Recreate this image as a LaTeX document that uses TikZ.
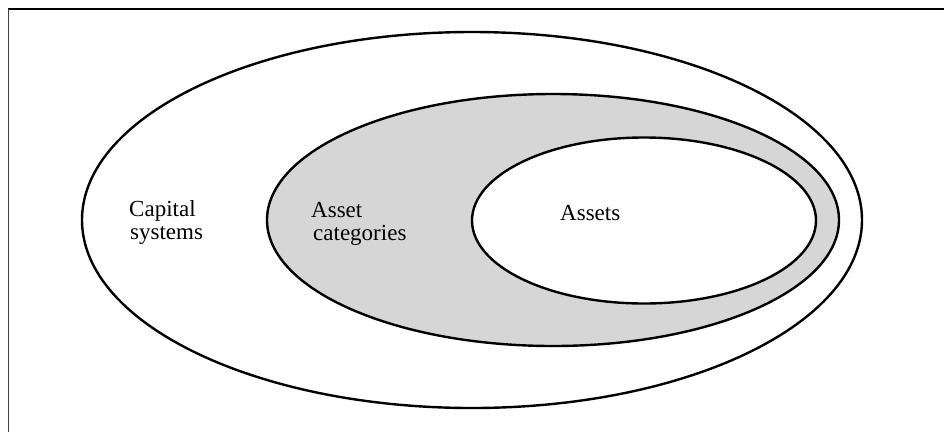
\documentclass[tikz,border=0pt]{standalone}
\usepackage{fontspec}
\setmainfont{Liberation Serif}
\definecolor{setgray}{RGB}{214,214,214}
\tikzset{
  setline/.style={line width=2.4pt, draw=black},
  lbl/.style={anchor=base west, inner sep=0pt, font=\fontsize{23}{24}\selectfont}
}
\begin{document}
\begin{tikzpicture}[x=1pt,y=-1pt]
\useasboundingbox (0,0) rectangle (944,432);
% frame (only top and left edges visible)
\draw[line width=2pt] (7.5,9) -- (944,9);
\draw[line width=1pt, draw=black!75] (8,9) -- (8,432);
% outer set
\draw[setline, fill=white] (472,220) ellipse [x radius=390pt, y radius=188pt];
% middle set
\draw[setline, fill=setgray] (553,220) ellipse [x radius=286pt, y radius=126pt];
% inner set
\draw[setline, fill=white] (644,220.5) ellipse [x radius=172pt, y radius=83pt];
% labels
\node[lbl] (cap1) at (129,216) {Capital};
\node[lbl] (cap2) at (130,239) {systems};
\node[lbl] (ac1) at (311,217) {Asset};
\node[lbl] (ac2) at (313,240) {categories};
\node[lbl] (as1) at (560,220) {Assets};
\end{tikzpicture}
\end{document}
